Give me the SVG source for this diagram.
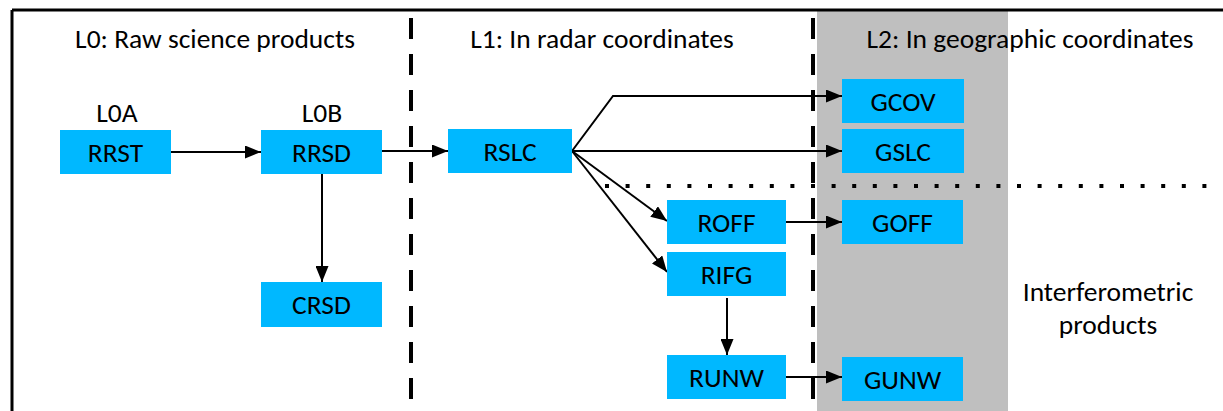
<svg xmlns="http://www.w3.org/2000/svg" width="1223" height="411" viewBox="0 0 1223 411">
<style>
.box{fill:#00b8ff}
.t{font-family:Carlito,Lato,"Liberation Sans",sans-serif;font-size:27.5px;fill:#000;text-anchor:middle}
.c{stroke:#000;stroke-width:2;fill:none}
.a{marker-end:url(#ah)}
.dash{stroke:#000;stroke-width:4;stroke-dasharray:21 15;fill:none}
.dot{stroke:#000;stroke-width:4;stroke-dasharray:4 16.6;fill:none}
</style>
<defs>
<marker id="ah" markerUnits="userSpaceOnUse" markerWidth="16" markerHeight="13" refX="16" refY="6.5" orient="auto">
<path d="M0,0 L16,6.5 L0,13 z" fill="#000"/>
</marker>
</defs>
<rect width="1223" height="411" fill="#fff"/>
<g id="background">
<rect x="817" y="11" width="191" height="400" fill="#bfbfbf"/>
<path d="M12,10 H1223 M12,10 V411" stroke="#000" stroke-width="3" fill="none"/>
<path class="dash" d="M411,18 V411"/>
<path class="dash" d="M813,18 V411"/>
<path class="dot" d="M605,186 H1223"/>
</g>
<g id="labels">
<text class="t" x="215" y="48">L0: Raw science products</text>
<text class="t" x="602" y="48">L1: In radar coordinates</text>
<text class="t" x="1030" y="48">L2: In geographic coordinates</text>
<text class="t" x="117" y="122">L0A</text>
<text class="t" x="322" y="122">L0B</text>
<text class="t" x="1108" y="301">Interferometric</text>
<text class="t" x="1108" y="334">products</text>
</g>
<g id="connectors">
<path class="c a" d="M171,152 H261"/>
<path class="c a" d="M382,151 H448"/>
<path class="c a" d="M322,174 V282"/>
<path class="c a" d="M572,151 L613,96 H842"/>
<path class="c a" d="M572,151 H842"/>
<path class="c a" d="M572,151 L667,221"/>
<path class="c a" d="M572,151 L667,272"/>
<path class="c a" d="M727,298 V355"/>
<path class="c a" d="M786,222 H842"/>
<path class="c a" d="M786,377 H842"/>
</g>
<g id="RRST"><rect class="box" x="60" y="130" width="111" height="44"/><text class="t" x="115.5" y="162">RRST</text></g>
<g id="RRSD"><rect class="box" x="261" y="130" width="121" height="44"/><text class="t" x="321.5" y="162">RRSD</text></g>
<g id="CRSD"><rect class="box" x="261" y="282" width="121" height="45"/><text class="t" x="321.5" y="314">CRSD</text></g>
<g id="RSLC"><rect class="box" x="448" y="129" width="124" height="44"/><text class="t" x="510" y="161">RSLC</text></g>
<g id="GCOV"><rect class="box" x="842" y="79" width="122" height="44"/><text class="t" x="903" y="111">GCOV</text></g>
<g id="GSLC"><rect class="box" x="842" y="129" width="122" height="44"/><text class="t" x="903" y="161">GSLC</text></g>
<g id="ROFF"><rect class="box" x="667" y="200" width="119" height="44"/><text class="t" x="726.5" y="232">ROFF</text></g>
<g id="RIFG"><rect class="box" x="667" y="252" width="119" height="44"/><text class="t" x="726.5" y="284">RIFG</text></g>
<g id="RUNW"><rect class="box" x="667" y="355" width="119" height="44"/><text class="t" x="726.5" y="387">RUNW</text></g>
<g id="GOFF"><rect class="box" x="842" y="200" width="121" height="44"/><text class="t" x="902.5" y="232">GOFF</text></g>
<g id="GUNW"><rect class="box" x="842" y="357" width="121" height="44"/><text class="t" x="902.5" y="389">GUNW</text></g>
</svg>
